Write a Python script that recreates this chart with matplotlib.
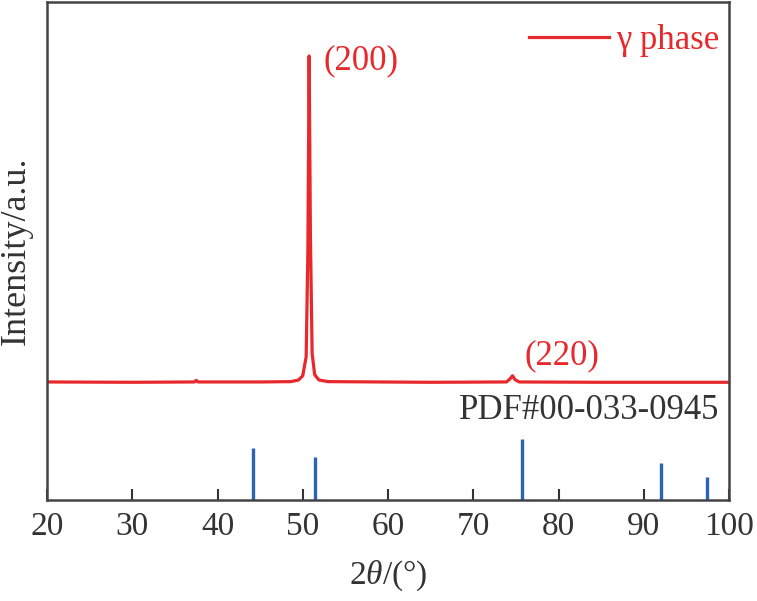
import numpy as np
import matplotlib
matplotlib.use("Agg")
import matplotlib.pyplot as plt

plt.rcParams['font.family'] = ['Liberation Serif', 'DejaVu Serif']
plt.rcParams['mathtext.fontset'] = 'custom'
plt.rcParams['mathtext.it'] = 'Liberation Serif:italic'
plt.rcParams['mathtext.rm'] = 'Liberation Serif'

# measured pattern (relative intensity, (200) = 100)
two_theta = [20, 30, 37.3, 37.5, 37.7, 45, 48.6, 49.5, 50.0, 50.4, 50.6,
             50.75, 50.9, 51.1, 51.4, 51.9, 53, 65, 73.9, 74.3, 74.6,
             74.9, 75.4, 85, 100]
intensity = [0.3, 0.2, 0.3, 0.8, 0.3, 0.3, 0.4, 0.9, 2.2, 8, 40,
             100, 45, 9, 2.5, 0.9, 0.4, 0.2, 0.3, 1.2, 2.2,
             1.0, 0.3, 0.2, 0.2]

# PDF#00-033-0945 reference lines
ref_pos = [44.2, 51.4, 75.7, 92.0, 97.4]
ref_int = [85, 70, 100, 61, 38]

RED = '#e8282b'
BLUE = '#2e62b6'
GREY = '#333333'

offset = 35.8
stick_scale = 0.1865

fig = plt.figure(figsize=(7.57, 6.01), dpi=100)
ax = fig.add_axes([47 / 757, 101 / 601, 682 / 757, 498 / 601])

ax.plot(two_theta, np.array(intensity) + offset, color=RED, lw=2.3,
        label='γ phase')
ax.vlines(ref_pos, 0, np.array(ref_int) * stick_scale, color=BLUE, lw=2.4)

ax.text(56.8, 134.3, '(200)', color=RED, fontsize=25, ha='center', va='center')
ax.text(80.4, 44.0, '(220)', color=RED, fontsize=25, ha='center', va='center')
ax.text(98.9, 27.4, 'PDF#00-033-0945', color=GREY, fontsize=25,
        ha='right', va='center')

leg = ax.legend(loc='upper right', bbox_to_anchor=(0.986, 0.955), frameon=False,
                fontsize=25, handlelength=2.3, handletextpad=0.2,
                borderpad=0, borderaxespad=0, labelcolor=RED)

ax.set_xlim(20, 100)
ax.set_ylim(0, 152.3)
ax.set_xticks(range(20, 101, 10))
ax.set_yticks([])
ax.tick_params(axis='x', direction='in', length=8, width=1.5, colors=GREY,
               labelsize=24, pad=8)
for s in ax.spines.values():
    s.set_linewidth(1.8)
    s.set_color('#444444')

ax.set_xlabel(r'2$\theta$/(°)', fontsize=24, color=GREY, labelpad=12)
ax.set_ylabel('Intensity/a.u.', fontsize=26, color=GREY, labelpad=10)

fig.savefig('out.png', dpi=100)
